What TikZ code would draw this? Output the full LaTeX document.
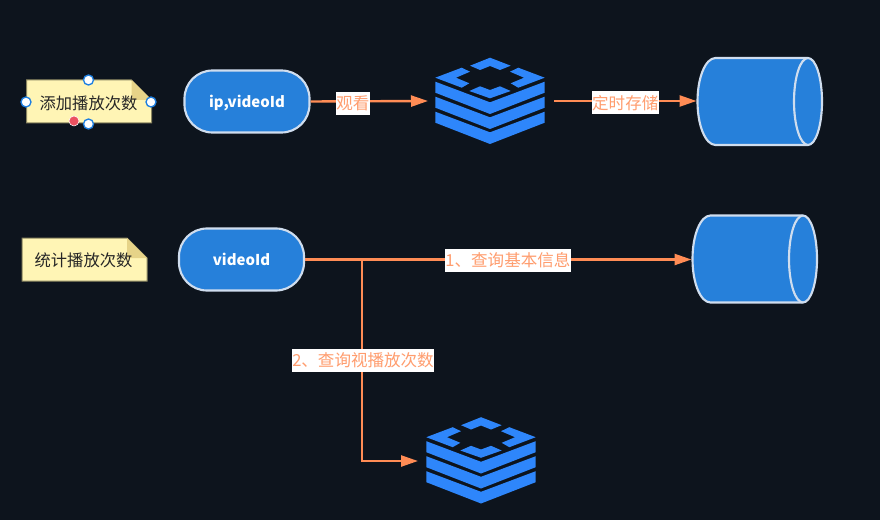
\documentclass[tikz,border=0pt]{standalone}
\usepackage{fontspec}
\setmainfont{Noto Sans CJK SC}
\usetikzlibrary{arrows.meta}
\definecolor{bgdark}{HTML}{0D141D}
\definecolor{flowline}{HTML}{FF8C55}
\definecolor{boxblue}{HTML}{2680DA}
\definecolor{boxedge}{HTML}{CFDDEE}
\definecolor{iconblue}{HTML}{2E86FB}
\definecolor{notefill}{HTML}{FFF5B5}
\definecolor{notefold}{HTML}{E6D388}
\definecolor{noteedge}{HTML}{8A8560}
\definecolor{handleblue}{HTML}{1E7FE0}
\definecolor{handlered}{HTML}{EB5160}
\tikzset{
	appbox/.style={draw=boxedge, line width=1.6pt, fill=boxblue, rounded corners=21pt, minimum width=93.75pt, minimum height=46.5pt, inner sep=0pt, text height=11.7pt, text depth=2pt, text=white, font=\fontsize{11.2}{14}\selectfont\bfseries},
	iconbox/.style={minimum width=94.5pt, minimum height=66pt, inner sep=0pt, outer sep=0pt},
	notebox/.style={minimum width=93.75pt, minimum height=32.25pt, inner sep=0pt, text=black!85, font=\fontsize{12.2}{14}\selectfont},
	flow/.style={draw=flowline, line width=1.8pt, -{Triangle[length=12.75pt,width=8.25pt]}},
	flowtext/.style={fill=white, text=flowline!85!white, inner xsep=0.5pt, inner ysep=0pt, minimum height=17.25pt, font=\fontsize{12.4}{14}\selectfont},
	handle/.style={circle, draw=handleblue, fill=white, line width=1pt, minimum size=7.5pt, inner sep=0pt},
	redhandle/.style={circle, draw=white, fill=handlered, line width=0.4pt, minimum size=7.5pt, inner sep=0pt},
	dbcylinder/.pic={
		\draw[fill=boxblue, draw=boxedge, line width=1.6pt] (48,-43.5) -- (-44,-43.5) .. controls (-54,-43.5) and (-62,-24) .. (-62,0) .. controls (-62,24) and (-54,43.5) .. (-44,43.5) -- (48,43.5);
		\draw[fill=boxblue, draw=boxedge, line width=1.6pt] (48.5,0) ellipse [x radius=14, y radius=43.5];
	},
	redisicon/.pic={
		\fill[iconblue] (-54.7,-23.3) -- (-28.3,-33.3) -- (-20,-29.3) -- (-34,-23.3) -- (-20.7,-17.7) -- (-28.3,-13.3) -- cycle;
		\fill[iconblue] (54.7,-23.3) -- (28.3,-33.3) -- (20,-29.3) -- (34,-23.3) -- (20.7,-17.7) -- (28.3,-13.3) -- cycle;
		\fill[iconblue] (-20,-35.3) -- (0,-43.3) -- (20.7,-35.3) -- (10,-31) -- (0,-35) -- (-10,-31) -- cycle;
		\fill[iconblue] (-20.7,-10) -- (-10,-14.7) -- (0,-11) -- (10,-14.7) -- (20.7,-10) -- (0,-2.7) -- cycle;
		\foreach \layer in {0,15,30}{
			\fill[iconblue] (-54.7,-19.3+\layer) -- (0,1.3+\layer) -- (54.7,-19.3+\layer) -- (54.7,-8.3+\layer) -- (0,13+\layer) -- (-54.7,-8.3+\layer) -- cycle;
		}
	},
	stickynote/.pic={
		\draw[fill=notefill, draw=noteedge, line width=0.75pt] (-62.5,-21.5) -- (42.5,-21.5) -- (62.5,-1.5) -- (62.5,21.5) -- (-62.5,21.5) -- cycle;
		\fill[notefold] (42.5,-21.5) -- (62.5,-1.5) -- (42.5,-1.5) -- cycle;
	}
}
\begin{document}
\begin{tikzpicture}[x=0.75pt,y=-0.75pt]
	\fill[bgdark] (0,0) rectangle (880,520);
	\useasboundingbox (0,0) rectangle (880,520);
	% draw the notes
	\pic at (89,101.5) {stickynote};
	\node[notebox] (note1) at (88.5,103) {添加播放次数};
	\pic at (84.5,259.5) {stickynote};
	\node[notebox] (note2) at (83.5,260) {统计播放次数};
	% selection handles
	\node[handle] (top1) at (88.5,80) {};
	\node[handle] (right1) at (151,102) {};
	\node[handle] (bottom1) at (88.5,124) {};
	\node[handle] (left1) at (26,102) {};
	\node[redhandle] (red1) at (74,121) {};
	% draw the boxes
	\node[appbox] (app1) at (247,101.5) {ip,videoId};
	\node[appbox] (app2) at (241.5,259.5) {videoId};
	\pic at (759.5,101.5) {dbcylinder};
	\node[iconbox] (db1) at (759.5,101) {};
	\pic at (754.5,259) {dbcylinder};
	\node[iconbox] (db2) at (754.5,259.5) {};
	\node[iconbox] (redis1) at (491,101) {};
	\pic at (490,101) {redisicon};
	\node[iconbox] (redis2) at (481,461) {};
	\pic at (481,460.5) {redisicon};
	\coordinate (branch) at (362,259.5);
	% draw the connectors
	\draw[flow] (app1.east) -- node[flowtext, pos=0.36, yshift=-1.5pt] (watch) {观看} (redis1.west);
	\draw[flow] (redis1.east) -- node[flowtext, yshift=-1.5pt] (store) {定时存储} (db1.west);
	\draw[flow] (app2.east) -- (db2.west) node[flowtext, pos=0.525, yshift=-0.75pt] (query1) {1、查询基本信息};
	\draw[flow] (branch) |- (redis2.west) node[flowtext, pos=0.25, xshift=0.75pt] (query2) {2、查询视播放次数};
\end{tikzpicture}
\end{document}
